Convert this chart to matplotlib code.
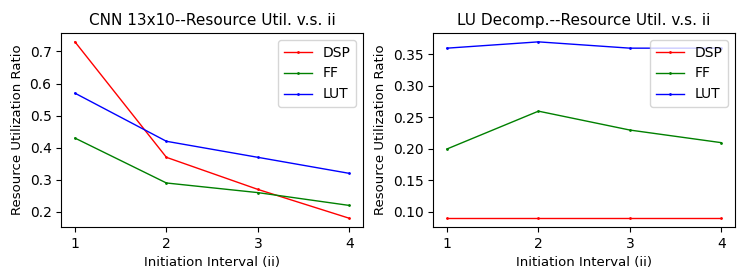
import numpy as np
import matplotlib
matplotlib.use('Agg')
import matplotlib.pyplot as plt
from matplotlib.ticker import MultipleLocator

ii = [1, 2, 3, 4]

# CNN 13x10
cnn_dsp = [0.73, 0.37, 0.27, 0.18]
cnn_ff = [0.43, 0.29, 0.26, 0.22]
cnn_lut = [0.57, 0.42, 0.37, 0.32]

# LU decomposition
lu_dsp = [0.09, 0.09, 0.09, 0.09]
lu_ff = [0.20, 0.26, 0.23, 0.21]
lu_lut = [0.36, 0.37, 0.36, 0.36]

plt.rcParams['font.size'] = 10

fig, (ax1, ax2) = plt.subplots(1, 2, figsize=(7.47, 2.8), dpi=100)

for ax, dsp, ff, lut, title, step in [
    (ax1, cnn_dsp, cnn_ff, cnn_lut, 'CNN 13x10--Resource Util. v.s. ii', 0.1),
    (ax2, lu_dsp, lu_ff, lu_lut, 'LU Decomp.--Resource Util. v.s. ii', 0.05),
]:
    ax.plot(ii, dsp, color='red', marker='.', markersize=2, linewidth=1, label='DSP')
    ax.plot(ii, ff, color='green', marker='.', markersize=2, linewidth=1, label='FF')
    ax.plot(ii, lut, color='blue', marker='.', markersize=2, linewidth=1, label='LUT')
    ax.set_xticks(ii)
    ax.yaxis.set_major_locator(MultipleLocator(step))
    ax.set_xlabel('Initiation Interval (ii)', fontsize=9.5)
    ax.set_ylabel('Resource Utilization Ratio', fontsize=9.5)
    ax.set_title(title, fontsize=11)
    ax.legend(loc='upper right')

fig.subplots_adjust(left=0.082, right=0.984, top=0.882, bottom=0.189, wspace=0.233)
fig.savefig('out.png')
